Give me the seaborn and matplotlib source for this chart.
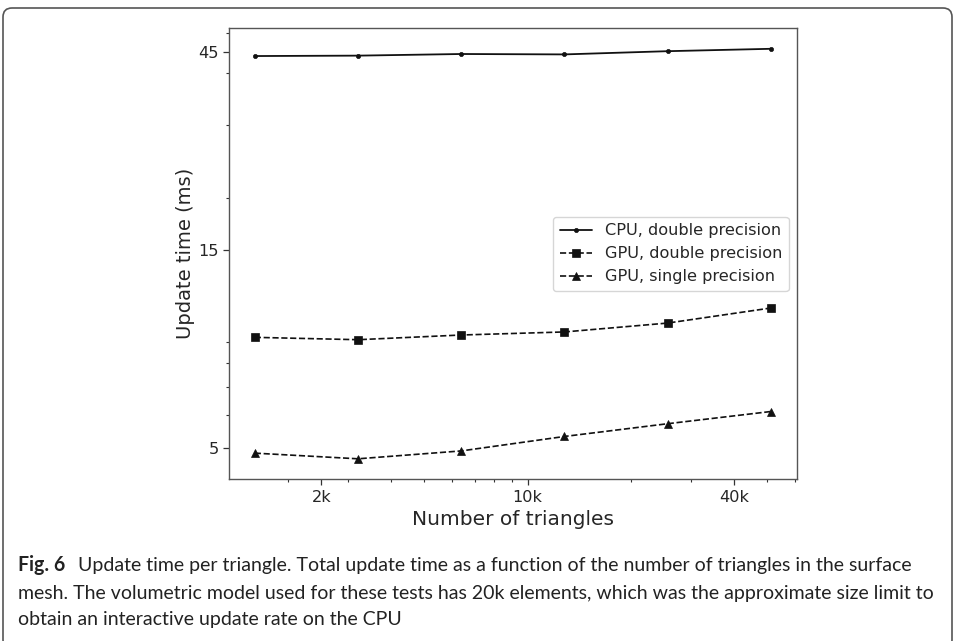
import numpy as np
import pandas as pd
import matplotlib
matplotlib.use("Agg")
import matplotlib.pyplot as plt
import matplotlib.ticker as mticker
from matplotlib.patches import FancyBboxPatch
from matplotlib.transforms import IdentityTransform
import seaborn as sns

# ---------------- data ----------------
triangles = [1600, 3200, 6400, 12800, 25600, 51200]
cpu_double = [43.9, 44.0, 44.4, 44.3, 45.1, 45.7]
gpu_double = [9.22, 9.10, 9.34, 9.50, 9.98, 10.85]
gpu_single = [4.85, 4.70, 4.91, 5.32, 5.71, 6.11]

series_names = ["CPU, double precision", "GPU, double precision", "GPU, single precision"]
x_ticks = [2500, 10000, 40000]
x_tick_labels = ["2k", "10k", "40k"]
y_ticks = [5, 15, 45]
y_tick_labels = ["5", "15", "45"]

caption_bold = "Fig. 6"
caption_lines = [
    "Update time per triangle. Total update time as a function of the number of triangles in the surface",
    "mesh. The volumetric model used for these tests has 20k elements, which was the approximate size limit to",
    "obtain an interactive update rate on the CPU",
]

# ---------------- figure ----------------
sns.set_style("ticks")
plt.rcParams["font.family"] = ["DejaVu Sans"]

W, H = 955, 641
fig = plt.figure(figsize=(W / 100, H / 100), dpi=100)
ax = fig.add_axes([229 / W, 1 - 479.3 / H, (796.7 - 229) / W, (479.3 - 28.3) / H])

ink = "#111111"
sns.lineplot(x=triangles, y=cpu_double, ax=ax, color=ink, marker="o", markersize=3,
             markeredgecolor=ink, markeredgewidth=0.5, linewidth=1.3, label=series_names[0])
sns.lineplot(x=triangles, y=gpu_double, ax=ax, color=ink, marker="s", markersize=5.5,
             markeredgecolor=ink, markeredgewidth=0.5, linewidth=1.2, linestyle="--",
             label=series_names[1])
sns.lineplot(x=triangles, y=gpu_single, ax=ax, color=ink, marker="^", markersize=6,
             markeredgecolor=ink, markeredgewidth=0.5, linewidth=1.2, linestyle="--",
             label=series_names[2])

ax.set_xscale("log")
ax.set_yscale("log")
ax.set_xticks(x_ticks)
ax.set_xticklabels(x_tick_labels)
ax.set_yticks(y_ticks)
ax.set_yticklabels(y_tick_labels)
ax.xaxis.set_minor_locator(mticker.LogLocator(base=10, subs=np.arange(2, 10)))
ax.yaxis.set_minor_locator(mticker.LogLocator(base=10, subs=np.arange(2, 10)))
ax.xaxis.set_minor_formatter(mticker.NullFormatter())
ax.yaxis.set_minor_formatter(mticker.NullFormatter())

ax.tick_params(axis="both", which="major", labelsize=11.6, length=4, width=0.9, color="#333333")
ax.tick_params(axis="both", which="minor", length=2.2, width=0.8, color="#333333")
for s in ax.spines.values():
    s.set_color("#555555")
    s.set_linewidth(1.0)
    s.set_visible(True)

ax.set_xlabel("Number of triangles", fontsize=14.5, labelpad=4)
ax.set_ylabel("Update time (ms)", fontsize=14, labelpad=2)

ax.legend(loc="center right", fontsize=11.6, frameon=True, handlelength=2.0)

# ---------------- caption ----------------
cap_fs = 12.6
cap_font = "Lato"
y_lines = [565, 593, 620]
tb = fig.text(18 / W, 1 - y_lines[0] / H, caption_bold, fontsize=cap_fs, fontweight="bold",
              family=cap_font, va="center", ha="left", color="#222222")
t1 = fig.text(78 / W, 1 - y_lines[0] / H, caption_lines[0], fontsize=cap_fs,
              family=cap_font, va="center", ha="left", color="#222222")
t2 = fig.text(18 / W, 1 - y_lines[1] / H, caption_lines[1], fontsize=cap_fs,
              family=cap_font, va="center", ha="left", color="#222222")
t3 = fig.text(18 / W, 1 - y_lines[2] / H, caption_lines[2], fontsize=cap_fs,
              family=cap_font, va="center", ha="left", color="#222222")

# fit caption width to the reference (line 1 ends near x=934, line 2 near x=938)
fig.canvas.draw()
r = fig.canvas.get_renderer()
s1 = (934 - 78) / t1.get_window_extent(r).width
s2 = (938 - 18) / t2.get_window_extent(r).width
scale = min(s1, s2)
for t in (tb, t1, t2, t3):
    t.set_fontsize(cap_fs * scale)

# ---------------- outer rounded frame ----------------
frame = FancyBboxPatch((3, -8), 949, 641, boxstyle="round,pad=0,rounding_size=9",
                       transform=IdentityTransform(), facecolor="none",
                       edgecolor="#555555", linewidth=1.2)
fig.add_artist(frame)

fig.savefig("out.png", dpi=100)
